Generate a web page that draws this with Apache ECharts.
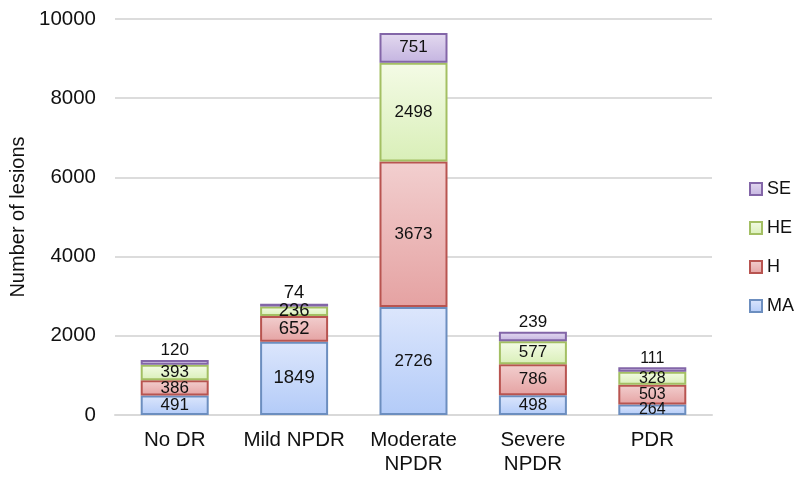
<!DOCTYPE html>
<html>
<head>
<meta charset="utf-8">
<script src="https://cdn.jsdelivr.net/npm/echarts@6/dist/echarts.min.js"></script>
<style>
html,body{margin:0;padding:0;background:#fff;}
#chart{width:795px;height:479px;}
</style>
</head>
<body>
<div id="chart"></div>
<script>
var categories = ['No DR', 'Mild NPDR', 'Moderate\nNPDR', 'Severe\nNPDR', 'PDR'];
var maData = [491, 1849, 2726, 498, 264];
var hData = [386, 652, 3673, 786, 503];
var heData = [393, 236, 2498, 577, 328];
var seData = [120, 74, 751, 239, 111];
var yTicks = [0, 2000, 4000, 6000, 8000, 10000];

// label font size per bar
var labelSizes = [17, 18.5, 17, 17, 16];

function grad(top, bottom){
	return new echarts.graphic.LinearGradient(0, 0, 0, 1, [
		{offset: 0, color: top},
		{offset: 1, color: bottom}
	]);
}

function makeData(values, isTop){
	var out = [];
	for (var i = 0; i < values.length; i++) {
		var item = {value: values[i], label: {fontSize: labelSizes[i]}};
		// small top segments get their label above the bar
		if (isTop && i != 2) {
			item.label.position = 'top';
			item.label.distance = 1;
		}
		out.push(item);
	}
	return out;
}

function makeSeries(name, values, top, bottom, border, isTop){
	return {
		name: name,
		type: 'bar',
		stack: 'total',
		barWidth: 68,
		data: makeData(values, isTop),
		itemStyle: {
			color: grad(top, bottom),
			borderColor: border,
			borderWidth: 2
		},
		label: {
			show: true,
			position: 'inside',
			color: '#111',
			fontFamily: 'Liberation Sans, Arial, sans-serif'
		}
	};
}

var chart = echarts.init(document.getElementById('chart'));
chart.setOption({
	animation: false,
	textStyle: {fontFamily: 'Liberation Sans, Arial, sans-serif'},
	grid: {left: 115, right: 83, top: 19, bottom: 64},
	legend: {
		orient: 'vertical',
		left: 744,
		top: 175,
		icon: 'rect',
		itemWidth: 12,
		itemHeight: 12,
		itemGap: 21,
		textStyle: {fontSize: 18, lineHeight: 18, color: '#111'},
		data: ['SE', 'HE', 'H', 'MA']
	},
	xAxis: {
		type: 'category',
		data: categories,
		axisTick: {show: false},
		axisLine: {lineStyle: {color: '#d9d9d9', width: 2}},
		axisLabel: {
			fontSize: 20.5, color: '#111', margin: 13, lineHeight: 24,
			interval: 0, hideOverlap: false
		}
	},
	yAxis: {
		type: 'value',
		min: yTicks[0],
		max: yTicks[yTicks.length - 1],
		interval: 2000,
		name: 'Number of lesions',
		nameLocation: 'middle',
		nameGap: 83,
		nameTextStyle: {fontSize: 20, color: '#111'},
		axisLine: {show: false},
		axisTick: {show: false},
		axisLabel: {
			fontSize: 20.5, color: '#111', margin: 19,
			formatter: function (v) { return String(v); }
		},
		splitLine: {lineStyle: {color: '#dcdcdc', width: 2}}
	},
	series: [
		makeSeries('MA', maData, '#dce6fc', '#b3cbf8', '#6c8ebf', false),
		makeSeries('H', hData, '#f2cfcf', '#e5a2a2', '#b85450', false),
		makeSeries('HE', heData, '#f4fbe6', '#d9efb8', '#a3bf63', false),
		makeSeries('SE', seData, '#e4daf0', '#c4b4e0', '#8366a8', true)
	]
});
</script>
</body>
</html>
